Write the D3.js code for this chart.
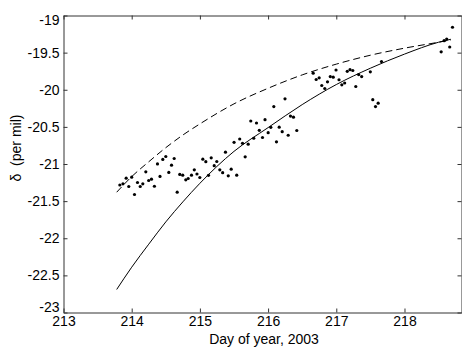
<!DOCTYPE html>
<html>
<head>
<meta charset="utf-8">
<script src="https://cdn.jsdelivr.net/npm/d3@7"></script>
<style>
  body { margin: 0; background: #fff; }
  text { font-family: "Liberation Sans", Arial, sans-serif; font-size: 14px; fill: #000; }
</style>
</head>
<body>
<div id="chart"></div>
<script>
// measured samples (day of year, delta)
const sampleDay = [
  213.826,213.872,213.919,213.957,214.000,214.041,214.085,214.125,214.163,214.207,
  214.249,214.290,214.333,214.378,214.415,214.456,214.500,214.544,214.584,214.623,
  214.667,214.705,214.748,214.793,214.828,214.877,214.918,214.957,214.999,215.043,
  215.087,215.126,215.166,215.210,215.248,215.292,215.334,215.375,215.416,215.459,
  215.501,215.540,215.584,215.625,215.664,215.708,215.746,215.790,215.830,215.871,
  215.918,215.955,216.001,216.040,216.084,216.123,216.163,216.207,216.248,216.295,
  216.328,216.372,216.421,216.661,216.705,216.749,216.787,216.831,216.871,216.912,
  216.955,216.996,217.040,217.081,217.123,217.161,217.201,217.242,217.286,217.328,
  217.372,217.499,217.535,217.575,217.614,217.663,218.538,218.581,218.619,218.663,
  218.704
];
const sampleDelta = [
  -21.283,-21.267,-21.191,-21.303,-21.178,-21.411,-21.249,-21.303,-21.267,-21.105,
  -21.222,-21.205,-21.300,-20.999,-21.168,-20.939,-20.899,-21.114,-21.016,-20.926,
  -21.380,-21.141,-21.151,-21.213,-21.195,-21.151,-21.078,-21.135,-21.182,-20.935,
  -20.969,-21.152,-20.917,-21.023,-20.966,-21.078,-21.117,-20.841,-21.159,-21.070,
  -20.708,-21.151,-20.663,-20.721,-20.903,-20.733,-20.421,-20.653,-20.448,-20.546,
  -20.643,-20.403,-20.578,-20.506,-20.226,-20.701,-20.504,-20.565,-20.122,-20.613,
  -20.355,-20.370,-20.549,-19.777,-19.862,-19.839,-19.943,-19.983,-19.893,-19.822,
  -19.831,-19.734,-19.865,-19.933,-19.909,-19.752,-19.730,-19.741,-19.956,-19.795,
  -19.822,-19.758,-20.134,-20.226,-20.181,-19.620,-19.489,-19.339,-19.317,-19.424,
  -19.158
];

// two model curves
const fitDay    = [213.78, 214.0, 214.25, 214.5, 214.75, 215.0, 215.5, 216.0, 216.5, 217.0, 217.5, 218.0, 218.5, 218.68];
const fitSolid  = [-22.69, -22.39, -22.08, -21.78, -21.51, -21.26, -20.83, -20.51, -20.20, -19.93, -19.71, -19.52, -19.36, -19.32];
const fitDashed = [-21.38, -21.17, -20.97, -20.78, -20.61, -20.46, -20.19, -19.98, -19.80, -19.655, -19.535, -19.44, -19.36, -19.33];

const xTicks = [213, 214, 215, 216, 217, 218];
const yTicks = [-19, -19.5, -20, -20.5, -21, -21.5, -22, -22.5, -23];

const W = 462, H = 348;
const box = {left: 63.5, right: 461.5, top: 15.5, bottom: 312.5};

const svg = d3.select("#chart").append("svg")
  .attr("width", W)
  .attr("height", H);

const x = d3.scaleLinear().domain([213, 218.836]).range([box.left, box.right]);
const y = d3.scaleLinear().domain([-23, -19]).range([box.bottom, box.top]);

const fmt = d => String(d);

// axes: ticks point inward, box all round
const axisColor = "#333";
const styleAxis = g => {
  g.selectAll("path.domain").attr("stroke", axisColor);
  g.selectAll(".tick line").attr("stroke", axisColor);
  g.selectAll(".tick text").attr("fill", "#000").style("font-size", "14px")
    .attr("font-family", null);
};

svg.append("g")
  .attr("transform", "translate(0," + box.bottom + ")")
  .call(d3.axisBottom(x).tickValues(xTicks).tickFormat(fmt).tickSize(-4).tickSizeOuter(0).tickPadding(4))
  .call(styleAxis);

svg.append("g")
  .attr("transform", "translate(0," + box.top + ")")
  .call(d3.axisTop(x).tickValues(xTicks).tickFormat("").tickSize(-4).tickSizeOuter(0))
  .call(styleAxis);

const yLeft = svg.append("g")
  .attr("transform", "translate(" + box.left + ",0)")
  .call(d3.axisLeft(y).tickValues(yTicks).tickFormat(fmt).tickSize(-4).tickSizeOuter(0).tickPadding(4))
  .call(styleAxis);

// end labels sit inside the axis span, like the original
yLeft.selectAll(".tick text")
  .attr("dy", d => d === -19 ? "0.62em" : d === -23 ? "-0.05em" : "0.32em");

svg.append("g")
  .attr("transform", "translate(" + box.right + ",0)")
  .call(d3.axisRight(y).tickValues(yTicks).tickFormat("").tickSize(-4).tickSizeOuter(0))
  .call(styleAxis);

// curves
const line = (vals) => d3.line()
  .x((d, i) => x(fitDay[i]))
  .y(d => y(d))
  .curve(d3.curveMonotoneX)(vals);

svg.append("path")
  .attr("d", line(fitSolid))
  .attr("fill", "none")
  .attr("stroke", "#000")
  .attr("stroke-width", 1);

svg.append("path")
  .attr("d", line(fitDashed))
  .attr("fill", "none")
  .attr("stroke", "#000")
  .attr("stroke-width", 1)
  .attr("stroke-dasharray", "7,4");

// sample dots
svg.append("g")
  .selectAll("circle")
  .data(sampleDay)
  .enter()
  .append("circle")
  .attr("cx", d => x(d))
  .attr("cy", (d, i) => y(sampleDelta[i]))
  .attr("r", 1.6)
  .attr("fill", "#000");

// labels
svg.append("text")
  .text("Day of year, 2003")
  .attr("x", 264)
  .attr("y", 344)
  .attr("text-anchor", "middle");

svg.append("text")
  .text("δ  (per mil)")
  .style("white-space", "pre")
  .attr("text-anchor", "middle")
  .attr("transform", "translate(21,148) rotate(-90)");
</script>
</body>
</html>
